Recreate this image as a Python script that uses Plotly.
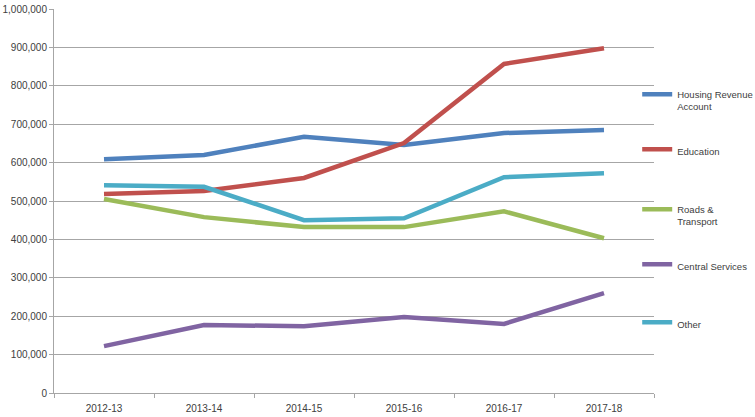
import plotly.graph_objects as go

years = ["2012-13", "2013-14", "2014-15", "2015-16", "2016-17", "2017-18"]
housing = [609000, 620000, 667000, 646000, 677000, 685000]
education = [518000, 526000, 560000, 651000, 857000, 898000]
roads = [505000, 458000, 432000, 432000, 473000, 403000]
central = [122000, 177000, 174000, 198000, 180000, 260000]
other = [541000, 537000, 450000, 455000, 562000, 572000]

series_names = ["Housing Revenue<br>Account", "Education", "Roads &<br>Transport", "Central Services", "Other"]
series_values = [housing, education, roads, central, other]
colors = ["#4F81BD", "#C0504D", "#9BBB59", "#8064A2", "#4BACC6"]
legend_ids = ["legend", "legend2", "legend3", "legend4", "legend5"]
legend_top_px = [93, 148, 208, 263, 321]  # legend block positions (pixels)

fig = go.Figure()
for name, vals, col, lid in zip(series_names, series_values, colors, legend_ids):
    fig.add_trace(go.Scatter(x=years, y=vals, mode="lines", name=name,
                             line=dict(color=col, width=4.5), legend=lid))

font = dict(family="Liberation Sans, Arial, sans-serif", size=10, color="#404040")
legend_font = dict(family="Liberation Sans, Arial, sans-serif", size=9.5, color="#404040")
plot_top, plot_bottom = 9, 393
layout_legends = {}
for lid, ypx in zip(legend_ids, legend_top_px):
    ypaper = (plot_bottom - ypx) / (plot_bottom - plot_top)
    layout_legends[lid] = dict(x=0.972, xanchor="left", y=ypaper + 0.03, yanchor="top",
                               valign="top", font=legend_font, bgcolor="rgba(0,0,0,0)",
                               itemwidth=30)

fig.update_layout(
    width=755, height=417,
    margin=dict(l=54, r=101, t=9, b=24, autoexpand=False),
    paper_bgcolor="white", plot_bgcolor="white",
    font=font,
    showlegend=True,
    **layout_legends,
)
fig.update_xaxes(type="category", range=[-0.5, 5.5], showgrid=False,
                 showline=True, linecolor="#a6a6a6", linewidth=1,
                 ticks="outside", tickson="boundaries", ticklen=4, tickcolor="#a6a6a6",
                 tickfont=font, automargin=False, ticklabelstandoff=6)
fig.update_yaxes(range=[0, 1000000], dtick=100000, tickformat=",",
                 showgrid=True, gridcolor="#a6a6a6", gridwidth=1,
                 showline=True, linecolor="#a6a6a6", linewidth=1,
                 ticks="outside", ticklen=4, tickcolor="#a6a6a6",
                 zeroline=False, tickfont=font, automargin=False)

fig.write_html("out.html", config={"displayModeBar": False},
               post_script="document.body.style.margin='0';document.body.style.padding='0';")
